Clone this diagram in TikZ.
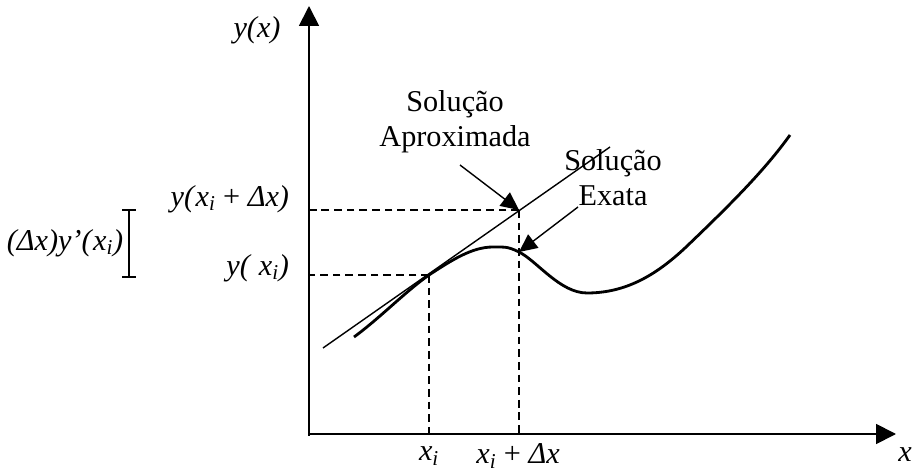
\documentclass[tikz,border=0pt]{standalone}
\usepackage{fontspec}
\setmainfont{Liberation Serif}
\usetikzlibrary{arrows.meta}
\newcommand{\xsub}{\textit{x}\textsubscript{\textit{i}}}

\begin{document}
\begin{tikzpicture}[x=0.025cm,y=-0.025cm,font=\fontsize{21.5}{25}\selectfont,
    axis/.style={line width=1.3pt,-{Triangle[length=0.5cm,width=0.5cm]}},
    guide/.style={line width=1pt,dash pattern=on 5.5pt off 3.5pt},
    pointer/.style={line width=1pt,-{Triangle[length=0.45cm,width=0.42cm]}}]
	\useasboundingbox (0,0) rectangle (914,471);
	% eixos
	\coordinate (O) at (309,436);
	\coordinate (X) at (896,434);
	\coordinate (Y) at (309,6);
	\draw[axis] (309,434) -- (X);
	\draw[axis] (O) -- (Y);
	\node (ylab) at (257,30) {\textit{y(x)}};
	\node (xlab) at (905,455) {\textit{x}};
	% pontos
	\coordinate (P) at (429,275);
	\coordinate (Q) at (519,210);
	\coordinate (R) at (519,252);
	\draw[guide] (P) -- (P -| O);
	\draw[guide] (P) -- (P |- X);
	\draw[guide] (Q) -- (Q -| O);
	\draw[guide] (Q) -- (Q |- X);
	% reta tangente e curva exata
	\draw[line width=1pt] (323,348) -- (610,147);
	\draw[line width=2pt] (354,337) .. controls (380,318) and (406,291) .. (P)
		.. controls (452,260) and (472,247) .. (493,247)
		.. controls (503,247) and (507,246) .. (R)
		.. controls (537,261) and (560,293) .. (587,293)
		.. controls (625,293) and (655,276) .. (685,248)
		.. controls (730,205) and (765,170) .. (790,135);
	% rotulos
	\node[anchor=east] (yq) at (294,199) {\textit{y(}\xsub{} + \textit{Δx)}};
	\node[anchor=east] (yp) at (294,268) {\textit{y( }\xsub\textit{)}};
	\node (dy) at (65,243) {\textit{(Δx)y’(}\xsub\textit{)}};
	\draw[line width=2pt] (122,210) -- (136,210) (129,210) -- (129,277) (122,277) -- (136,277);
	\node[inner sep=1pt] (xi) at (429,456) {\xsub};
	\node[inner sep=1pt] (xd) at (518,456) {\xsub{} + \textit{Δx}};
	\node[align=center] (aprox) at (455,122) {Solução\\Aproximada};
	\node[align=center] (exata) at (613,178) {Solução\\Exata};
	\coordinate (a1) at (460,165);
	\coordinate (a2) at (578,207);
	\draw[pointer] (a1) -- (Q);
	\draw[pointer] (a2) -- (R);
\end{tikzpicture}
\end{document}
